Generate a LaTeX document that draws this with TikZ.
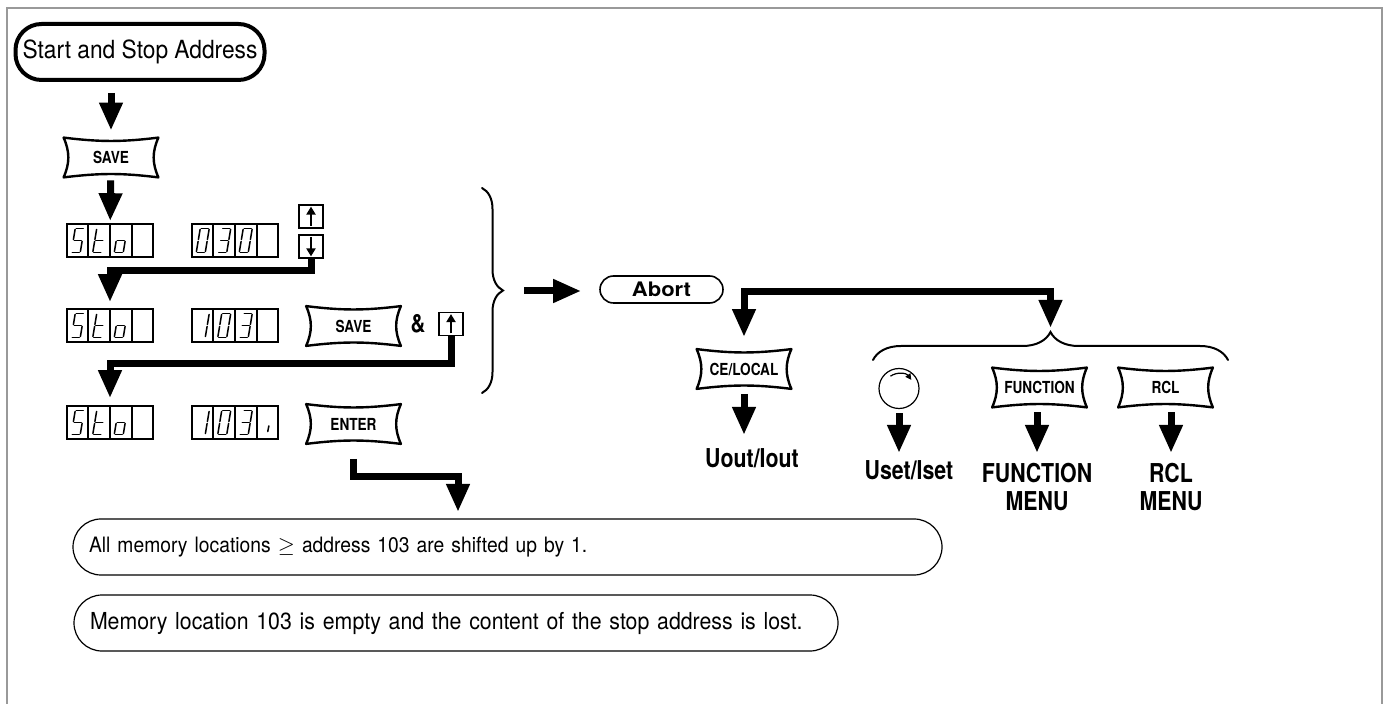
\documentclass[tikz,border=0pt]{standalone}
\usepackage{fontspec}
\setmainfont{TeX Gyre Heros}[FakeStretch=0.91]
\newfontfamily\condfont{TeX Gyre Heros}[FakeStretch=0.82]
\newfontfamily\widefont{TeX Gyre Heros}[FakeStretch=1.1]
\usetikzlibrary{arrows.meta, calc, decorations.pathreplacing}

% seven segment character, #1 = list of segments
\tikzset{
  lcd/.pic={
    \coordinate (TL) at (-2.5,12);
    \coordinate (TR) at (6.5,12);
    \coordinate (ML) at (-4.5,0);
    \coordinate (MR) at (4.5,0);
    \coordinate (BL) at (-6.5,-12);
    \coordinate (BR) at (2.5,-12);
    \coordinate (IT) at (1.8,-2.5);
    \coordinate (IB) at (0.3,-10);
    \foreach \p/\q in #1
      \draw[segline] (\p) -- (\q);
  }
}
\def\segS{TR/TL,TL/ML,ML/MR,MR/BR,BR/BL}
\def\segT{TL/ML,ML/BL,ML/MR,BL/BR}
\def\segO{ML/MR,MR/BR,BR/BL,BL/ML}
\def\segZero{TL/TR,TR/MR,MR/BR,BR/BL,BL/ML,ML/TL}
\def\segOne{TR/MR,MR/BR}
\def\segThree{TL/TR,TR/MR,MR/BR,BR/BL,ML/MR}
\def\segTick{IT/IB}

\begin{document}
\begin{tikzpicture}[
    x=0.5pt, y=0.5pt,
    >={Triangle[width=11pt,length=14pt]},
    bigarrow/.style={->, line width=3.5pt},
    segline/.style={line width=0.75pt, line cap=round, shorten <=0.5pt, shorten >=0.5pt},
    lcdbox/.style={draw, line width=0.8pt, minimum width=43pt, minimum height=16.5pt, inner sep=0pt},
    key/.style={minimum width=47pt, minimum height=19.5pt, inner sep=0pt, font=\condfont\bfseries\fontsize{8.3}{9}\selectfont},
    keyline/.style={line width=1.2pt, line join=round, line cap=round},
    arrowkey/.style={draw, line width=0.8pt, minimum width=12pt, minimum height=11.5pt, inner sep=0pt},
    box/.style={draw, line width=0.6pt, rounded corners=14pt, minimum height=28pt, inner xsep=8pt, inner ysep=0pt, align=left, font=\fontsize{11.7}{14}\selectfont},
    result/.style={inner sep=0pt, anchor=north, align=center, font=\condfont\bfseries\fontsize{13}{14}\selectfont},
    bracket/.style={decorate, line width=1pt, line cap=round}
  ]

  \useasboundingbox (0,0) rectangle (1390,-704);
  \draw[black!40, line width=1pt] (7,-704) -- (7,-8) -- (1382,-8) -- (1382,-704);

  % left column
  \node[draw, line width=2pt, rounded corners=13pt, minimum width=124.5pt, minimum height=28pt, inner sep=0pt,
        font=\fontsize{12.5}{14}\selectfont] (title) at (140,-52) {Start and Stop Address};
  \node[key] (save1) at (111,-157.5) {SAVE};

  \node[lcdbox] (sto1) at (110,-240.5) {};
  \node[lcdbox] (val1) at (235,-240.5) {};
  \node[arrowkey] (up1) at (311,-216.5) {};
  \node[arrowkey] (dn1) at (311,-246.5) {};

  \node[lcdbox] (sto2) at (110,-325.5) {};
  \node[lcdbox] (val2) at (235,-325.5) {};
  \node[key] (save2) at (353.5,-326) {SAVE};
  \node[font=\condfont\bfseries\fontsize{12.5}{14}\selectfont] (amp) at (418,-324) {\&};
  \node[arrowkey] (up2) at (451,-324) {};

  \node[lcdbox] (sto3) at (110,-422.5) {};
  \node[lcdbox] (val3) at (235,-422.5) {};
  \node[key] (enter) at (353.5,-424) {ENTER};

  \node[box, text width=418.5pt, font=\fontsize{10.6}{13}\selectfont] (box1) at (507.5,-547)
    {All memory locations $\geq$ address 103 are shifted up by 1.};
  \node[box, text width=366pt] (box2) at (456,-623)
    {Memory location 103 is empty and the content of the stop address is lost.};

  % right part
  \node[draw, line width=0.8pt, rounded corners=6.75pt, minimum width=61.5pt, minimum height=13.5pt, inner sep=0pt,
        font=\widefont\bfseries\fontsize{10}{11}\selectfont] (abort) at (661.5,-289.5) {Abort};
  \node[key] (ce) at (744,-369) {CE/LOCAL};
  \node[result] (uout) at (752,-448) {Uout/Iout};

  \node[draw, circle, line width=0.6pt, minimum size=20pt, inner sep=0pt] (knob) at (899,-388.5) {};
  \node[key] (func) at (1039.5,-387.5) {FUNCTION};
  \node[key] (rcl) at (1165.5,-387.5) {RCL};
  \node[result] (uset) at (909,-460) {Uset/Iset};
  \node[result] (funcmenu) at (1037,-463) {FUNCTION\\MENU};
  \node[result] (rclmenu) at (1171,-463) {RCL\\MENU};

  % display cells
  \foreach \d in {sto1,val1,sto2,val2,sto3,val3}
    \foreach \i in {1,2,3}
      \draw[line width=0.8pt] ($(\d.north west)!\i/4!(\d.north east)$) -- ($(\d.south west)!\i/4!(\d.south east)$);

  \foreach \d in {sto1,sto2,sto3} {
    \pic at ($(\d)+(-32.25,0)$) {lcd=\segS};
    \pic at ($(\d)+(-10.75,0)$) {lcd=\segT};
    \pic at ($(\d)+(10.75,0)$) {lcd=\segO};
  }
  \pic at ($(val1)+(-32.25,0)$) {lcd=\segZero};
  \pic at ($(val1)+(-10.75,0)$) {lcd=\segThree};
  \pic at ($(val1)+(10.75,0)$) {lcd=\segZero};
  \pic at ($(val2)+(-32.25,0)$) {lcd=\segOne};
  \pic at ($(val2)+(-10.75,0)$) {lcd=\segZero};
  \pic at ($(val2)+(10.75,0)$) {lcd=\segThree};
  \pic at ($(val3)+(-32.25,0)$) {lcd=\segOne};
  \pic at ($(val3)+(-10.75,0)$) {lcd=\segZero};
  \pic at ($(val3)+(10.75,0)$) {lcd=\segThree};
  \pic at ($(val3)+(32.25,0)$) {lcd=\segTick};

  % key outlines with hollow sides
  \foreach \k in {save1,save2,enter,ce,func,rcl}
    \draw[keyline] (\k.north west) to[bend right=7] (\k.north east)
      to[bend right=24] (\k.south east) to[bend right=7] (\k.south west)
      to[bend right=24] (\k.north west);

  % arrow keys
  \foreach \k in {up1,up2}
    \draw[-{Triangle[width=4.5pt,length=4pt]}, line width=1pt] ([yshift=1.5pt]\k.south) -- ([yshift=-1.2pt]\k.north);
  \draw[-{Triangle[width=4.5pt,length=4pt]}, line width=1pt] ([yshift=-1.5pt]dn1.north) -- ([yshift=1.2pt]dn1.south);
  \draw[-{Triangle[width=3pt,length=3pt]}, line width=0.6pt] (knob.center) ++(125:7.5pt) arc[start angle=125, end angle=35, radius=7.5pt];

  % flow arrows
  \draw[bigarrow, shorten <=5.5pt, shorten >=3.5pt] (title.south -| save1.north) -- (save1.north);
  \draw[bigarrow, shorten <=1.5pt, shorten >=1pt] (save1) -- (sto1);
  \draw[bigarrow, shorten >=3pt] (dn1.south) -- ++(0,-12) -| (sto2.north);
  \draw[bigarrow, shorten >=3.5pt] (up2.south) -- ++(0,-27) -| (sto3.north);
  \coordinate (in1) at (458,-519);
  \draw[bigarrow, shorten <=7.5pt, shorten >=3.5pt] (enter.south) -- ++(0,-33) -| (in1);

  % braces
  \coordinate (br1a) at (482,-188);
  \coordinate (br1b) at (482,-393);
  \coordinate (br1tip) at (503,-291);
  \draw[bracket, decoration={brace, amplitude=10.5pt}] (br1a) -- (br1b);
  \draw[bigarrow, shorten <=10.5pt, shorten >=9pt] (br1tip) -- (br1tip -| abort.west);

  \coordinate (br2a) at (873,-360);
  \coordinate (br2b) at (1228,-360);
  \coordinate (br2tip) at (1050.5,-332);
  \draw[bracket, decoration={brace, amplitude=14pt}] (br2a) -- (br2b);
  \coordinate (split) at (1050.5,-292);
  \draw[bigarrow, <->, shorten <=6pt, shorten >=2pt] (ce.north) |- (split) -- (br2tip);

  \draw[bigarrow, shorten <=2.5pt, shorten >=6.5pt] (ce.south) -- (ce.south |- uout.north);
  \draw[bigarrow, shorten <=2pt, shorten >=3.5pt] (knob.south) -- (knob.south |- uset.north);
  \draw[bigarrow, shorten <=2.5pt, shorten >=5pt] (func.south -| funcmenu.north) -- (funcmenu.north);
  \draw[bigarrow, shorten <=2.5pt, shorten >=5pt] (rcl.south -| rclmenu.north) -- (rclmenu.north);

\end{tikzpicture}
\end{document}
